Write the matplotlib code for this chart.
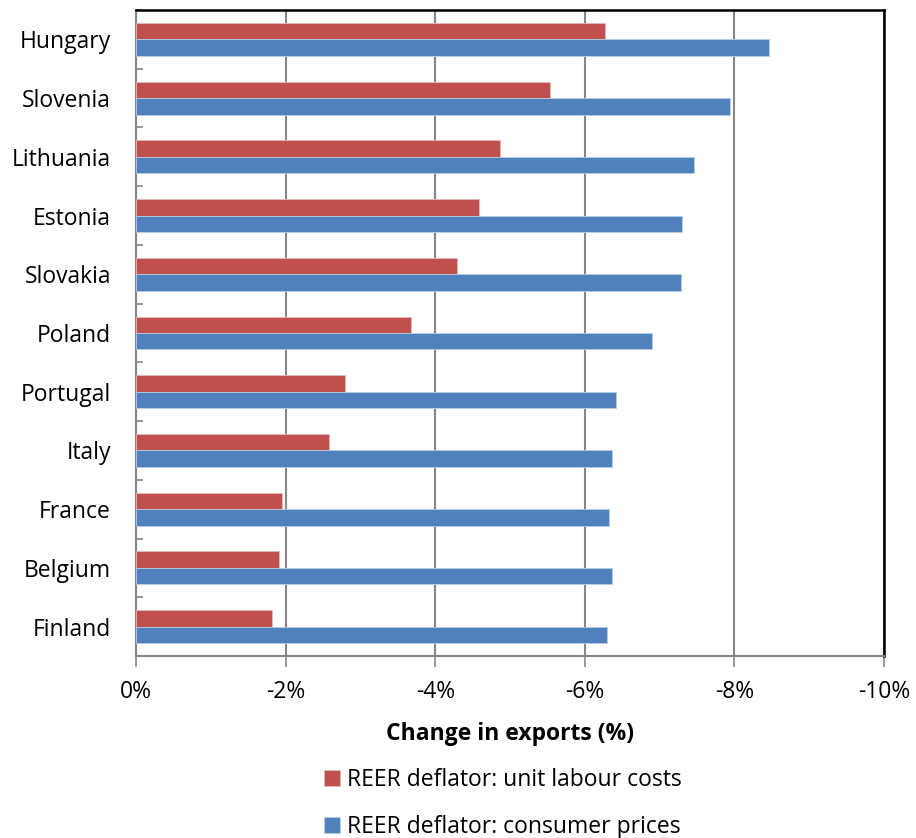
import numpy as np
import matplotlib.pyplot as plt
from matplotlib.ticker import FixedLocator, FuncFormatter

plt.rcParams['font.family'] = ['Open Sans', 'DejaVu Sans']

countries = ['Hungary', 'Slovenia', 'Lithuania', 'Estonia', 'Slovakia', 'Poland',
             'Portugal', 'Italy', 'France', 'Belgium', 'Finland']
ulc = [-6.27, -5.54, -4.86, -4.59, -4.29, -3.67, -2.80, -2.58, -1.95, -1.91, -1.82]
cpi = [-8.46, -7.94, -7.46, -7.30, -7.29, -6.90, -6.42, -6.36, -6.32, -6.36, -6.30]
labels = ['REER deflator: unit labour costs', 'REER deflator: consumer prices']
xticks = [0, -2, -4, -6, -8, -10]

red = '#C0504D'
blue = '#4F81BD'
grey = '#868686'
fs = 16.5

fig = plt.figure(figsize=(9.16, 8.38), dpi=100)
ax = fig.add_axes([0.1485, 0.2172, 0.8166, 0.7709])

y = np.arange(len(countries))
h = 0.28
b1 = ax.barh(y - h / 2, ulc, h, color=red, edgecolor='#E6B9B8', linewidth=0.6, label=labels[0], zorder=3)
b2 = ax.barh(y + h / 2, cpi, h, color=blue, edgecolor='#B9CDE5', linewidth=0.6, label=labels[1], zorder=3)

ax.set_xlim(0, -10)
ax.set_ylim(len(countries) - 0.5, -0.5)
ax.set_xticks(xticks)
ax.xaxis.set_major_formatter(FuncFormatter(lambda v, p: '%d%%' % round(v)))
ax.set_yticks(y)
ax.set_yticklabels(countries)
ax.yaxis.set_minor_locator(FixedLocator(np.arange(-0.5, len(countries), 1)))

ax.grid(axis='x', color=grey, linewidth=1.5, zorder=0)
ax.tick_params(axis='y', which='major', length=0, pad=18, labelsize=fs)
ax.tick_params(axis='y', which='minor', direction='in', length=5, color=grey, width=1.2)
ax.tick_params(axis='x', direction='out', length=8, color=grey, width=1.2, labelsize=fs, pad=9)

for s in ['left', 'bottom']:
    ax.spines[s].set_color(grey)
    ax.spines[s].set_linewidth(1.5)
for s in ['top', 'right']:
    ax.spines[s].set_color('black')
    ax.spines[s].set_linewidth(1.8)

ax.set_xlabel('Change in exports (%)', fontsize=fs, fontweight='bold', labelpad=13)

fig.legend(handles=[b1, b2], labels=labels, loc='upper left', bbox_to_anchor=(0.341, 0.097),
           frameon=False, fontsize=fs, handlelength=0.7, handleheight=0.7,
           handletextpad=0.3, labelspacing=1.0, borderpad=0)

plt.savefig('out.png', dpi=100)
